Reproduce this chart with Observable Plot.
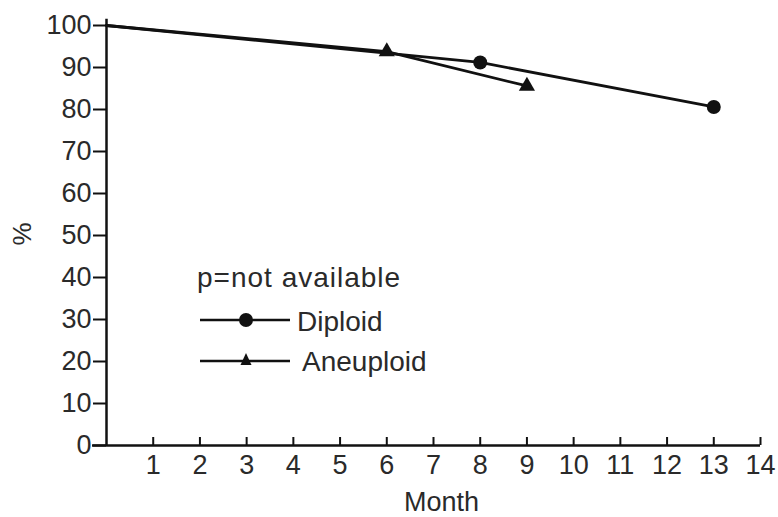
<!DOCTYPE html>
<html><head><meta charset="utf-8">
<script src="https://cdn.jsdelivr.net/npm/d3@7"></script>
<script src="https://cdn.jsdelivr.net/npm/@observablehq/plot@0.6"></script>
<style>
body{margin:0;background:#fff;}
#wrap{position:relative;width:778px;height:517px;font-family:"Liberation Sans",Arial,sans-serif;}
#legend{position:absolute;left:0;top:0;pointer-events:none;}
#chart svg text{fill:#2a2a2a;}
</style></head>
<body><div id="wrap"><div id="chart"></div>
<svg id="legend" width="778" height="517" font-family="Liberation Sans, Arial, sans-serif" font-size="28" fill="#2a2a2a">
 <text x="197" y="287" letter-spacing="1">p=not available</text>
 <line x1="200" y1="320" x2="290" y2="320" stroke="#111" stroke-width="2.5"/>
 <circle cx="246" cy="320" r="7" fill="#111"/>
 <text x="297" y="331">Diploid</text>
 <line x1="200" y1="361" x2="290" y2="361" stroke="#111" stroke-width="2.5"/>
 <path d="M246,353 L251.5,365 L240.5,365 Z" fill="#111"/>
 <text x="302" y="371">Aneuploid</text>
</svg></div>
<script>
const diploidMonths = [0, 8, 13];
const diploidPct = [100, 91.2, 80.6];
const aneuploidMonths = [0, 6, 9];
const aneuploidPct = [100, 93.8, 85.6];
const xTicks = [1,2,3,4,5,6,7,8,9,10,11,12,13,14];
const yTicks = [0,10,20,30,40,50,60,70,80,90,100];

const dip = diploidMonths.map((m,i)=>({month:m, pct:diploidPct[i]}));
const aneu = aneuploidMonths.map((m,i)=>({month:m, pct:aneuploidPct[i]}));

const chart = Plot.plot({
  width: 778, height: 517,
  marginLeft: 106, marginRight: 18, marginTop: 25, marginBottom: 72,
  x: {domain: [0, 14]},
  y: {domain: [0, 100]},
  style: {fontFamily: '"Liberation Sans", Arial, sans-serif', fontSize: "27px", color: "#2a2a2a", overflow: "visible"},
  marks: [
    Plot.ruleY([0], {x1: -0.3, x2: 14, stroke: "#111", strokeWidth: 2.5, clip: false}),
    Plot.ruleX([0], {y1: 0, y2: 101.5, stroke: "#111", strokeWidth: 2.5}),
    Plot.axisX({ticks: xTicks, tickSize: -8, tickPadding: 17, strokeWidth: 2, stroke: "#111", label: null}),
    Plot.axisY({ticks: yTicks, tickSize: 13, tickPadding: 2, strokeWidth: 2, stroke: "#111", label: null}),
    Plot.text(["Month"], {frameAnchor: "bottom", lineAnchor: "middle", dy: 57, dx: 8, fontSize: 27, fill: "#2a2a2a"}),
    Plot.text(["%"], {frameAnchor: "left", dx: -84, dy: 10, rotate: -90, fontSize: 26, fill: "#2a2a2a"}),
    Plot.line(dip, {x: "month", y: "pct", stroke: "#111", strokeWidth: 2.8}),
    Plot.line(aneu, {x: "month", y: "pct", stroke: "#111", strokeWidth: 2.8}),
    Plot.dot(dip.slice(1), {x: "month", y: "pct", r: 7, fill: "#111"}),
    Plot.dot(aneu.slice(1), {x: "month", y: "pct", r: 6, symbol: "triangle", fill: "#111"})
  ]
});
document.getElementById("chart").appendChild(chart);
</script></body></html>
